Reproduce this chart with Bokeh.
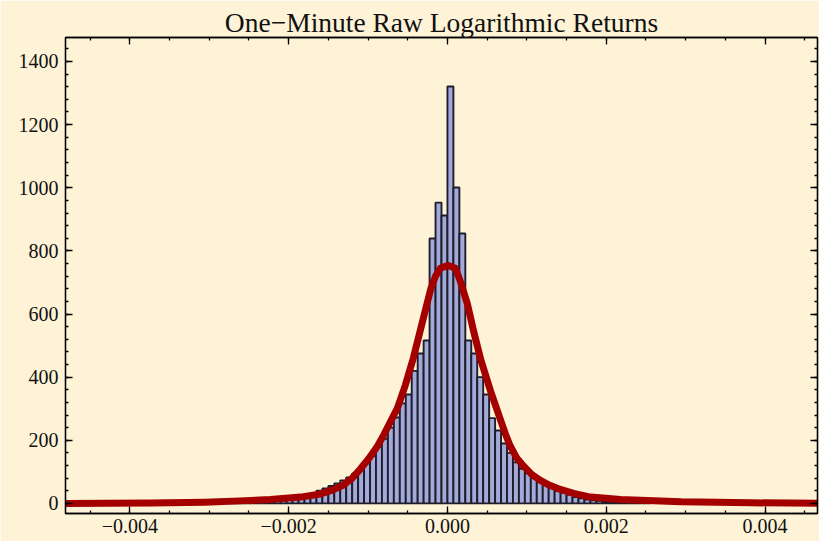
from bokeh.plotting import figure
from bokeh.models import LinearAxis, FixedTicker, CustomJSTickFormatter, Range1d, ColumnDataSource
from bokeh.embed import file_html
from bokeh.resources import INLINE

# ---- data ----
title_text = "One\u2212Minute Raw Logarithmic Returns"
bin_width = 0.000075
first_bin = -37  # index of first bin (left edge = first_bin * bin_width)
counts = [1, 2, 2, 3, 3, 4, 5, 6, 8, 10, 12, 15, 18, 22, 28, 40, 47, 55, 63, 73, 82,
          95, 110, 127, 150, 180, 205, 240, 272, 317, 345, 420, 475, 516, 839, 953, 912,
          1321, 1001, 855, 516, 475, 400, 345, 270, 231, 190, 160, 130, 110, 95, 82, 68,
          58, 50, 40, 34, 28, 20, 16, 12, 10, 8, 6, 5, 4, 3, 2, 2, 1, 1]

curve_x = [-0.00481, -0.00374, -0.00305, -0.00261, -0.00223, -0.00185, -0.00160, -0.00145,
           -0.00131, -0.00120, -0.00110, -0.00099, -0.00088, -0.00080, -0.00072, -0.00063,
           -0.00053, -0.00043, -0.00032, -0.00021, -0.00015, -0.00009, 0.00001, 0.00010,
           0.00016, 0.00025, 0.00033, 0.00042, 0.00054, 0.00067, 0.00073, 0.00079, 0.00087,
           0.00096, 0.00106, 0.00117, 0.00128, 0.00139, 0.00159, 0.00180, 0.00218, 0.00294,
           0.00382, 0.00477]
curve_y = [0, 1, 4, 8, 12, 20, 30, 42, 58, 80, 108, 142, 182, 218, 258, 302, 375, 460, 570,
           680, 720, 745, 754, 745, 705, 633, 545, 455, 358, 263, 220, 182, 145, 118, 92, 73,
           58, 47, 32, 20, 12, 5, 2, 0]

x_ticks = [-0.004, -0.002, 0.0, 0.002, 0.004]
y_ticks = [0, 200, 400, 600, 800, 1000, 1200, 1400]

# ---- derived geometry ----
lefts = [(first_bin + i) * bin_width for i in range(len(counts))]
rights = [l + bin_width for l in lefts]

bg = "#FEF3D7"
serif = "Liberation Serif"

p = figure(width=819, height=541, output_backend="svg", toolbar_location=None,
           x_range=Range1d(-0.00481, 0.00466), y_range=Range1d(-32, 1476),
           min_border_left=65, min_border_right=2, min_border_bottom=28, min_border_top=37)
p.title.text = title_text
p.title.align = "center"
p.title.text_font = serif
p.title.text_font_size = "27.5px"
p.title.text_font_style = "normal"
p.title.text_color = "#111111"
p.title.standoff = 0
p.title.offset = 0
p.background_fill_color = bg
p.border_fill_color = bg
p.outline_line_color = "black"
p.outline_line_width = 1.3
p.grid.visible = False

src = ColumnDataSource(dict(left=lefts, right=rights, top=counts, bottom=[0] * len(counts)))
p.quad(left="left", right="right", top="top", bottom="bottom", source=src,
       fill_color="#A3A9D8", line_color="#1e1e2a", line_width=1.9)

p.line(curve_x, curve_y, line_color="#A50000", line_width=7, line_join="round")

fmt = CustomJSTickFormatter(code="""
return (tick < 0 ? '\u2212' : '') + Math.abs(tick).toFixed(3);
""")
blank = CustomJSTickFormatter(code="return '';")

xt = FixedTicker(ticks=x_ticks, minor_ticks=[i * 0.0005 for i in range(-10, 11)])
yt = FixedTicker(ticks=y_ticks, minor_ticks=[i * 40 for i in range(-1, 38)])

def style(ax):
    ax.major_tick_in = 7
    ax.major_tick_out = 0
    ax.minor_tick_in = 3
    ax.minor_tick_out = 0
    ax.major_tick_line_color = "black"
    ax.minor_tick_line_color = "black"
    ax.axis_line_color = "black"
    ax.axis_line_width = 1.3
    ax.major_tick_line_width = 1.3
    ax.minor_tick_line_width = 1.3
    ax.major_label_text_font = serif
    ax.major_label_text_font_size = "20px"
    ax.major_label_text_color = "#111111"

xa = p.xaxis[0]
xa.ticker = xt
xa.formatter = fmt
xa.major_label_standoff = 5
style(xa)

ya = p.yaxis[0]
ya.ticker = yt
ya.major_label_standoff = 7
style(ya)

top_ax = LinearAxis(ticker=xt, formatter=blank, major_label_standoff=0)
style(top_ax)
p.add_layout(top_ax, "above")
right_ax = LinearAxis(ticker=yt, formatter=blank, major_label_standoff=0)
style(right_ax)
p.add_layout(right_ax, "right")

open("out.html", "w").write(file_html(p, INLINE))
